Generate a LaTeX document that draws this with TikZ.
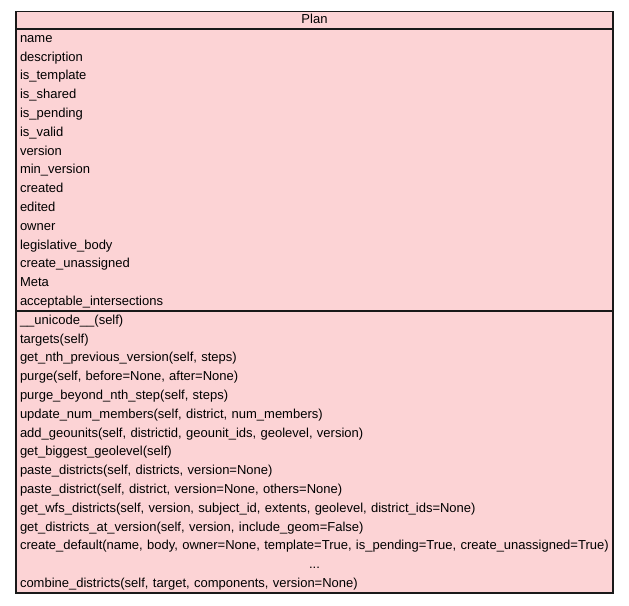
\documentclass[tikz,border=0pt]{standalone}
\usepackage{fontspec}
\setmainfont{Liberation Sans}
\usetikzlibrary{positioning, backgrounds}
\definecolor{planpink}{RGB}{252,211,213}

\begin{document}
\begin{tikzpicture}[x=1pt, y=1pt, node distance=0pt, font=\fontsize{13}{15}\selectfont]

        % --- styles ---
        \tikzstyle{header} = [rectangle, text width=589pt, minimum height=17.5pt, inner xsep=4pt, inner ysep=0pt, outer sep=0pt, text height=9pt, text depth=2.5pt, align=center]
        \tikzstyle{row} = [rectangle, text width=589pt, minimum height=18.8pt, inner xsep=4pt, inner ysep=0pt, outer sep=0pt, text height=10.5pt, text depth=2.5pt, align=left]
        \tikzstyle{frame} = [line width=1.3pt, draw=black!90]

        \useasboundingbox (0,0) rectangle (629,605);

        % --- class name ---
        \node (title) [header, anchor=north west] at (16,593.5) {Plan};

        % --- attributes ---
        \node (a1) [row, below right=0pt of title.south west] {name};
        \node (a2) [row, below right=0pt of a1.south west] {description};
        \node (a3) [row, below right=0pt of a2.south west] {is\_template};
        \node (a4) [row, below right=0pt of a3.south west] {is\_shared};
        \node (a5) [row, below right=0pt of a4.south west] {is\_pending};
        \node (a6) [row, below right=0pt of a5.south west] {is\_valid};
        \node (a7) [row, below right=0pt of a6.south west] {version};
        \node (a8) [row, below right=0pt of a7.south west] {min\_version};
        \node (a9) [row, below right=0pt of a8.south west] {created};
        \node (a10) [row, below right=0pt of a9.south west] {edited};
        \node (a11) [row, below right=0pt of a10.south west] {owner};
        \node (a12) [row, below right=0pt of a11.south west] {legislative\_body};
        \node (a13) [row, below right=0pt of a12.south west] {create\_unassigned};
        \node (a14) [row, below right=0pt of a13.south west] {Meta};
        \node (a15) [row, below right=0pt of a14.south west] {acceptable\_intersections};

        % --- methods ---
        \node (m1) [row, below right=0pt of a15.south west] {\_\_unicode\_\_(self)};
        \node (m2) [row, below right=0pt of m1.south west] {targets(self)};
        \node (m3) [row, below right=0pt of m2.south west] {get\_nth\_previous\_version(self, steps)};
        \node (m4) [row, below right=0pt of m3.south west] {purge(self, before=None, after=None)};
        \node (m5) [row, below right=0pt of m4.south west] {purge\_beyond\_nth\_step(self, steps)};
        \node (m6) [row, below right=0pt of m5.south west] {update\_num\_members(self, district, num\_members)};
        \node (m7) [row, below right=0pt of m6.south west] {add\_geounits(self, districtid, geounit\_ids, geolevel, version)};
        \node (m8) [row, below right=0pt of m7.south west] {get\_biggest\_geolevel(self)};
        \node (m9) [row, below right=0pt of m8.south west] {paste\_districts(self, districts, version=None)};
        \node (m10) [row, below right=0pt of m9.south west] {paste\_district(self, district, version=None, others=None)};
        \node (m11) [row, below right=0pt of m10.south west] {get\_wfs\_districts(self, version, subject\_id, extents, geolevel, district\_ids=None)};
        \node (m12) [row, below right=0pt of m11.south west] {get\_districts\_at\_version(self, version, include\_geom=False)};
        \node (m13) [row, below right=0pt of m12.south west] {create\_default(name, body, owner=None, template=True, is\_pending=True, create\_unassigned=True)};
        \node (m14) [row, below right=0pt of m13.south west, align=center] {...};
        \node (m15) [row, below right=0pt of m14.south west] {combine\_districts(self, target, components, version=None)};

        % --- fill, frame and separators ---
        \begin{scope}[on background layer]
            \fill[planpink] (title.north west) rectangle (m15.south east);
        \end{scope}
        \draw[frame] (title.north west) rectangle (m15.south east);
        \draw[frame] (title.south west) -- (title.south east);
        \draw[frame] (a15.south west) -- (a15.south east);

\end{tikzpicture}
\end{document}
